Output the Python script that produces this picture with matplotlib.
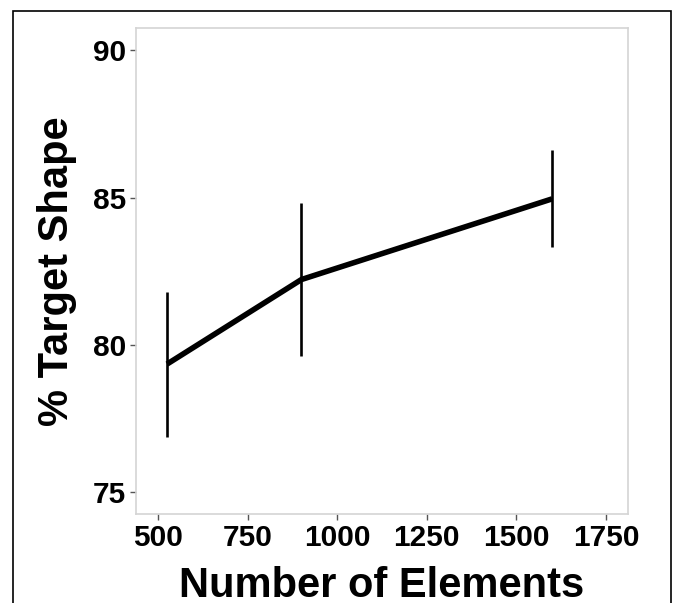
import matplotlib
matplotlib.use("Agg")
import matplotlib.pyplot as plt
from matplotlib.patches import Rectangle

# Data
num_elements = [525, 900, 1600]
pct_target = [79.35, 82.22, 84.96]
err_low = [76.87, 79.61, 83.31]
err_high = [81.79, 84.83, 86.63]
x_ticks = [500, 750, 1000, 1250, 1500, 1750]
y_ticks = [75, 80, 85, 90]

plt.rcParams['font.family'] = ['Liberation Sans', 'DejaVu Sans']

W, H = 673, 603
fig = plt.figure(figsize=(W / 100, H / 100), dpi=100)

left, right, top, bottom = 135.7, 628.3, 28.3, 514.3
ax = fig.add_axes([left / W, 1 - bottom / H, (right - left) / W, (bottom - top) / H])

ax.plot(num_elements, pct_target, color='black', lw=4.0, solid_capstyle='butt', zorder=3)
ax.vlines(num_elements, err_low, err_high, color='black', lw=1.9, zorder=4)

ax.set_xlim(437.5, 1812.5)
ax.set_ylim(74.25, 90.75)
ax.set_xticks(x_ticks)
ax.set_yticks(y_ticks)
ax.set_xticklabels([str(v) for v in x_ticks], fontsize=21.5, fontweight='bold')
ax.set_yticklabels([str(v) for v in y_ticks], fontsize=21.5, fontweight='bold')
ax.tick_params(axis='both', length=4, width=1, color='#555555', pad=3)

for s in ax.spines.values():
    s.set_color('#d4d4d4')
    s.set_linewidth(1.2)

ax.set_xlabel('Number of Elements', fontsize=30, fontweight='bold', labelpad=10)
ax.set_ylabel('% Target Shape', fontsize=30, fontweight='bold', labelpad=11)

# Outer frame
fig.patches.append(Rectangle((12.5 / W, -0.05), (670.5 - 12.5) / W, 1.05 - 10.5 / H,
                             transform=fig.transFigure, fill=False,
                             edgecolor='black', lw=1.2))

fig.savefig('out.png', dpi=100)
